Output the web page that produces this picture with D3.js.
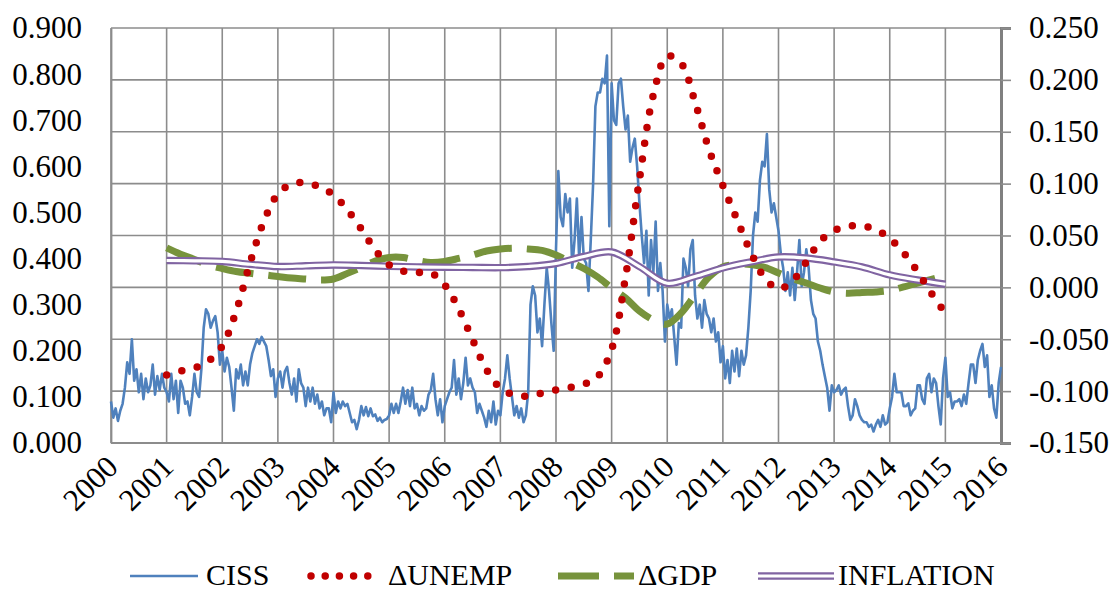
<!DOCTYPE html>
<html>
<head>
<meta charset="utf-8">
<script src="https://cdn.jsdelivr.net/npm/d3@7"></script>
<style>
  body { margin: 0; background: #fff; }
  text { font-family: "Liberation Serif", "Times New Roman", serif; fill: #000; }
</style>
</head>
<body>
<svg id="svg" width="1113" height="592"></svg>
<script>
// ---- data ----
const years = d3.range(2000, 2017);
const leftTicks = d3.range(0, 10).map(d => d / 10);
const rightTicks = d3.range(-3, 6).map(d => d * 0.05);

// CISS, twice a month from 2000.0 (left axis)
const cissStart = 2000;
const cissStep = 1 / 24;
const ciss = [
  // 2000
  0.090, 0.055, 0.075, 0.048, 0.070, 0.085, 0.120, 0.175, 0.150, 0.225, 0.135, 0.160,
  0.110, 0.150, 0.095, 0.140, 0.110, 0.125, 0.170, 0.105, 0.145, 0.115, 0.150, 0.120,
  // 2001
  0.110, 0.090, 0.150, 0.095, 0.135, 0.065, 0.135, 0.120, 0.085, 0.090, 0.060, 0.100,
  0.150, 0.110, 0.100, 0.160, 0.250, 0.290, 0.280, 0.250, 0.265, 0.275, 0.240, 0.170,
  // 2002
  0.200, 0.155, 0.185, 0.165, 0.120, 0.070, 0.160, 0.140, 0.170, 0.125, 0.155, 0.125,
  0.170, 0.195, 0.210, 0.225, 0.215, 0.230, 0.220, 0.210, 0.180, 0.145, 0.160, 0.100,
  // 2003
  0.140, 0.155, 0.120, 0.155, 0.165, 0.130, 0.105, 0.140, 0.090, 0.160, 0.130, 0.120,
  0.080, 0.120, 0.090, 0.120, 0.085, 0.105, 0.075, 0.090, 0.060, 0.075, 0.075, 0.045,
  // 2004
  0.110, 0.065, 0.090, 0.075, 0.090, 0.080, 0.085, 0.065, 0.045, 0.050, 0.030, 0.050,
  0.080, 0.060, 0.078, 0.058, 0.075, 0.058, 0.062, 0.048, 0.055, 0.045, 0.050, 0.052,
  // 2005
  0.060, 0.085, 0.065, 0.085, 0.065, 0.090, 0.120, 0.085, 0.115, 0.080, 0.120, 0.075,
  0.085, 0.060, 0.080, 0.070, 0.075, 0.105, 0.115, 0.150, 0.095, 0.060, 0.095, 0.045,
  // 2006
  0.080, 0.095, 0.110, 0.120, 0.180, 0.105, 0.140, 0.095, 0.130, 0.185, 0.125, 0.140,
  0.120, 0.110, 0.065, 0.085, 0.070, 0.055, 0.035, 0.070, 0.045, 0.090, 0.040, 0.070,
  // 2007
  0.060, 0.110, 0.140, 0.190, 0.140, 0.100, 0.060, 0.080, 0.055, 0.075, 0.045, 0.060,
  0.110, 0.300, 0.340, 0.320, 0.240, 0.270, 0.210, 0.300, 0.380, 0.330, 0.260, 0.200,
  // 2008
  0.420, 0.590, 0.490, 0.470, 0.540, 0.500, 0.530, 0.380, 0.440, 0.530, 0.400, 0.490,
  0.400, 0.390, 0.330, 0.440, 0.560, 0.730, 0.760, 0.760, 0.790, 0.780, 0.840, 0.470,
  // 2009
  0.780, 0.700, 0.690, 0.780, 0.790, 0.730, 0.680, 0.710, 0.610, 0.640, 0.660, 0.600,
  0.520, 0.450, 0.390, 0.460, 0.320, 0.440, 0.370, 0.480, 0.330, 0.390, 0.330, 0.220,
  // 2010
  0.300, 0.270, 0.290, 0.230, 0.170, 0.260, 0.250, 0.400, 0.380, 0.340, 0.420, 0.440,
  0.320, 0.270, 0.300, 0.250, 0.310, 0.280, 0.270, 0.240, 0.270, 0.220, 0.240, 0.175,
  // 2011
  0.210, 0.140, 0.180, 0.130, 0.200, 0.155, 0.205, 0.145, 0.200, 0.170, 0.190, 0.250,
  0.330, 0.450, 0.500, 0.480, 0.570, 0.610, 0.600, 0.670, 0.550, 0.500, 0.520, 0.490,
  // 2012
  0.460, 0.410, 0.380, 0.330, 0.370, 0.320, 0.380, 0.310, 0.370, 0.440, 0.340, 0.370,
  0.420, 0.380, 0.310, 0.280, 0.270, 0.220, 0.200, 0.170, 0.145, 0.120, 0.070, 0.125,
  // 2013
  0.110, 0.115, 0.125, 0.105, 0.115, 0.120, 0.080, 0.050, 0.060, 0.095, 0.080, 0.060,
  0.050, 0.045, 0.045, 0.035, 0.040, 0.025, 0.040, 0.050, 0.035, 0.060, 0.040, 0.045,
  // 2014
  0.075, 0.100, 0.150, 0.110, 0.110, 0.110, 0.080, 0.080, 0.086, 0.060, 0.070, 0.075,
  0.125, 0.125, 0.095, 0.085, 0.140, 0.150, 0.110, 0.140, 0.130, 0.080, 0.040, 0.140,
  // 2015
  0.185, 0.100, 0.110, 0.075, 0.090, 0.090, 0.095, 0.080, 0.105, 0.085, 0.130, 0.170,
  0.170, 0.130, 0.180, 0.200, 0.215, 0.165, 0.190, 0.100, 0.125, 0.075, 0.055, 0.130,
  // 2016.0
  0.165
];

// quarterly from 2001.0 (right axis)
const qStart = 2001;
const qStep = 0.25;
const unemp = [
  -0.0844, -0.0806, -0.0777, -0.0710,
  -0.0565, -0.0231, 0.0236, 0.0640,
  0.0900, 0.0997, 0.1009, 0.0968,
  0.0890, 0.0746, 0.0563, 0.0360,
  0.0216, 0.0158, 0.0143, 0.0139,
  0.0023, -0.0205, -0.0503, -0.0792,
  -0.0970, -0.1037, -0.1047, -0.1018,
  -0.0989, -0.0966, -0.0934, -0.0860,
  -0.0597, 0.0100, 0.1040, 0.1855,
  0.2230, 0.2160, 0.1787, 0.1330,
  0.0982, 0.0660, 0.0341, 0.0093,
  -0.0015, 0.0062, 0.0245, 0.0447,
  0.0547, 0.0589, 0.0592, 0.0558,
  0.0471, 0.0332, 0.0152, -0.0057,
  -0.0250
];
const gdp = [
  0.0380, 0.0320, 0.0269, 0.0216,
  0.0182, 0.0153, 0.0136, 0.0121,
  0.0105, 0.0090, 0.0081, 0.0071,
  0.0081, 0.0135, 0.0192, 0.0254,
  0.0288, 0.0288, 0.0259, 0.0240,
  0.0250, 0.0279, 0.0312, 0.0351,
  0.0370, 0.0377, 0.0370, 0.0356,
  0.0312, 0.0245, 0.0182, 0.0100,
  -0.0006, -0.0102, -0.0227, -0.0314,
  -0.0353, -0.0247, -0.0073, 0.0100,
  0.0197, 0.0221, 0.0221, 0.0192,
  0.0139, 0.0086, 0.0042, -0.0006,
  -0.0044, -0.0057, -0.0049, -0.0044,
  -0.0030, 0.0004, 0.0042, 0.0076,
  0.0115
];

// half-yearly from 2001.0 (right axis)
const hStart = 2001;
const hStep = 0.5;
const inflation = [
  0.0259, 0.0256, 0.0250, 0.0223, 0.0201, 0.0208, 0.0216, 0.0211,
  0.0203, 0.0197, 0.0194, 0.0192, 0.0190, 0.0201, 0.0230, 0.0298,
  0.0341, 0.0200, 0.0040, 0.0105, 0.0187, 0.0245, 0.0293, 0.0283,
  0.0245, 0.0197, 0.0120, 0.0071, 0.0030
];

const seriesNames = ["CISS", "\u0394UNEMP", "\u0394GDP", "INFLATION"];

// ---- layout ----
const svg = d3.select("#svg");
const width = 1113, height = 592;
const margin = { top: 28, right: 112, bottom: 149, left: 111 };
const chartWidth = width - margin.left - margin.right;
const chartHeight = height - margin.top - margin.bottom;

const colCiss = "#4f81bd", colUnemp = "#c00000", colGdp = "#77933c", colInfl = "#8064a2";
const gridCol = "#8c8c8c";

const x = d3.scaleLinear().domain([2000, 2016]).range([0, chartWidth]);
const yLeft = d3.scaleLinear().domain([0, 0.9]).range([chartHeight, 0]);
const yRight = d3.scaleLinear().domain([-0.15, 0.25]).range([chartHeight, 0]);

const chart = svg.append("g")
  .attr("transform", "translate(" + margin.left + "," + margin.top + ")");

const fmt = d => d3.format(".3f")(d).replace("\u2212", "-");

// gridlines (they follow the right axis)
chart.append("g")
  .selectAll("line")
  .data(rightTicks)
  .enter().append("line")
  .attr("x1", 0).attr("x2", chartWidth)
  .attr("y1", d => yRight(d)).attr("y2", d => yRight(d))
  .attr("stroke", gridCol).attr("stroke-width", 1.6);

chart.append("g")
  .selectAll("line")
  .data(years)
  .enter().append("line")
  .attr("x1", d => x(d)).attr("x2", d => x(d))
  .attr("y1", 0).attr("y2", chartHeight)
  .attr("stroke", gridCol).attr("stroke-width", 1.6);

// right axis: thicker border + outside ticks
const rightAxis = chart.append("g")
  .attr("transform", "translate(" + chartWidth + ",0)")
  .call(d3.axisRight(yRight).tickValues(rightTicks).tickFormat(fmt).tickSize(10).tickPadding(18));
rightAxis.select(".domain").attr("stroke", "#808080").attr("stroke-width", 3);
rightAxis.selectAll(".tick line").attr("stroke", gridCol).attr("stroke-width", 1.6);
rightAxis.selectAll("text").style("font-size", "31px").attr("fill", "#000");

// left axis: labels only
const leftAxis = chart.append("g")
  .call(d3.axisLeft(yLeft).tickValues(leftTicks).tickFormat(fmt).tickSize(0).tickPadding(29));
leftAxis.select(".domain").attr("stroke", gridCol).attr("stroke-width", 1.8);
leftAxis.selectAll("text").style("font-size", "31px").attr("fill", "#000");

// bottom border and rotated year labels
chart.append("line")
  .attr("x1", 0).attr("x2", chartWidth)
  .attr("y1", chartHeight).attr("y2", chartHeight)
  .attr("stroke", gridCol).attr("stroke-width", 2);

chart.append("g")
  .selectAll("text")
  .data(years)
  .enter().append("text")
  .attr("transform", d => "translate(" + (x(d) + 1) + "," + (chartHeight + 18) + ") rotate(-45)")
  .attr("text-anchor", "end")
  .attr("dy", "0.35em")
  .style("font-size", "31px")
  .text(d => d);

// ---- series ----
const cissLine = d3.line()
  .x((d, i) => x(cissStart + i * cissStep))
  .y(d => yLeft(d));

const qLine = d3.line()
  .x((d, i) => x(qStart + i * qStep))
  .y(d => yRight(d))
  .curve(d3.curveCatmullRom.alpha(0.5));

const hLine = d3.line()
  .x((d, i) => x(hStart + i * hStep))
  .y(d => yRight(d))
  .curve(d3.curveCatmullRom.alpha(0.5));

chart.append("path")
  .datum(ciss)
  .attr("d", cissLine)
  .attr("fill", "none")
  .attr("stroke", colCiss)
  .attr("stroke-width", 2.6)
  .attr("stroke-linejoin", "round");

chart.append("path")
  .datum(gdp)
  .attr("d", qLine)
  .attr("fill", "none")
  .attr("stroke", colGdp)
  .attr("stroke-width", 7)
  .attr("stroke-dasharray", "38,15");

chart.append("path")
  .datum(inflation)
  .attr("d", hLine)
  .attr("fill", "none")
  .attr("stroke", colInfl)
  .attr("stroke-width", 7.4);
chart.append("path")
  .datum(inflation)
  .attr("d", hLine)
  .attr("fill", "none")
  .attr("stroke", "#fff")
  .attr("stroke-width", 3.2);

chart.append("path")
  .datum(unemp)
  .attr("d", qLine)
  .attr("fill", "none")
  .attr("stroke", colUnemp)
  .attr("stroke-width", 7.5)
  .attr("stroke-linecap", "round")
  .attr("stroke-dasharray", "0,15.8");

// ---- legend ----
const legend = svg.append("g").attr("transform", "translate(0,576)");
const legendItems = [
  { name: seriesNames[0], x0: 130, x1: 198, tx: 206 },
  { name: seriesNames[1], x0: 311, x1: 375, tx: 388 },
  { name: seriesNames[2], x0: 558, x1: 634, tx: 638 },
  { name: seriesNames[3], x0: 758, x1: 834, tx: 838 }
];

legend.append("line")
  .attr("x1", legendItems[0].x0).attr("x2", legendItems[0].x1)
  .attr("stroke", colCiss).attr("stroke-width", 2.6);
legend.append("line")
  .attr("x1", legendItems[1].x0).attr("x2", legendItems[1].x1)
  .attr("stroke", colUnemp).attr("stroke-width", 7.5)
  .attr("stroke-linecap", "round").attr("stroke-dasharray", "0,14.2");
legend.append("line")
  .attr("x1", legendItems[2].x0).attr("x2", legendItems[2].x1)
  .attr("stroke", colGdp).attr("stroke-width", 7)
  .attr("stroke-dasharray", "41,15");
legend.append("line")
  .attr("x1", legendItems[3].x0).attr("x2", legendItems[3].x1)
  .attr("stroke", colInfl).attr("stroke-width", 7.4);
legend.append("line")
  .attr("x1", legendItems[3].x0).attr("x2", legendItems[3].x1)
  .attr("stroke", "#fff").attr("stroke-width", 3.2);

legend.selectAll("text")
  .data(legendItems)
  .enter().append("text")
  .attr("x", d => d.tx)
  .attr("y", 9)
  .style("font-size", "30px")
  .text(d => d.name);
</script>
</body>
</html>
